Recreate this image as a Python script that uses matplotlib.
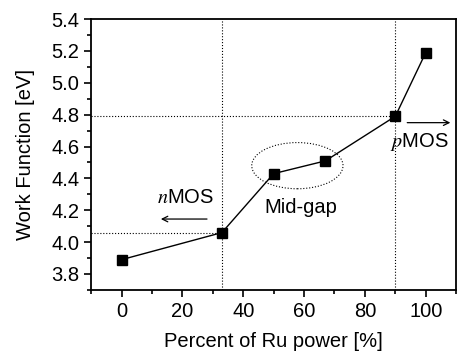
import matplotlib
matplotlib.use('Agg')
import matplotlib.pyplot as plt
from matplotlib.patches import Ellipse
from matplotlib.ticker import MultipleLocator

plt.rcParams['font.family'] = ['Liberation Sans', 'DejaVu Sans']
plt.rcParams['mathtext.fontset'] = 'stix'

# data
ru_power = [0, 33, 50, 67, 90, 100]
work_func = [3.89, 4.06, 4.43, 4.51, 4.79, 5.19]
x_ticks = [0, 20, 40, 60, 80, 100]
y_ticks = [3.8, 4.0, 4.2, 4.4, 4.6, 4.8, 5.0, 5.2, 5.4]

fs = 14.5

fig = plt.figure(figsize=(4.58, 3.54), dpi=100)
ax = fig.add_axes([0.199, 0.181, 0.797, 0.765])

ax.plot(ru_power, work_func, color='black', lw=1.0, marker='s', ms=6.5, zorder=3)

# guide lines
ax.axvline(ru_power[1], color='black', ls=':', lw=0.8)
ax.axvline(ru_power[4], color='black', ls=':', lw=0.8)
ax.plot([-10, ru_power[1]], [work_func[1]] * 2, color='black', ls=':', lw=0.8)
ax.plot([-10, ru_power[4]], [work_func[4]] * 2, color='black', ls=':', lw=0.8)

ax.add_patch(Ellipse((57.8, 4.48), 30, 0.29, fill=False, ls=':', lw=0.8, color='black'))

ax.text(59, 4.22, 'Mid-gap', fontsize=fs, ha='center', va='center')
ax.text(21, 4.28, r'$n$MOS', fontsize=fs, ha='center', va='center')
ax.text(98, 4.63, r'$p$MOS', fontsize=fs, ha='center', va='center')
ax.annotate('', xy=(12, 4.145), xytext=(29, 4.145),
            arrowprops=dict(arrowstyle='->', lw=0.9, color='black'))
ax.annotate('', xy=(109, 4.75), xytext=(93, 4.75),
            arrowprops=dict(arrowstyle='->', lw=0.9, color='black'))

ax.set_xlim(-10, 110)
ax.set_ylim(3.7, 5.4)
ax.set_xticks(x_ticks)
ax.set_yticks(y_ticks)
ax.xaxis.set_minor_locator(MultipleLocator(10))
ax.yaxis.set_minor_locator(MultipleLocator(0.1))
ax.set_yticklabels(['%.1f' % v for v in y_ticks])
ax.tick_params(which='both', direction='out', top=False, right=False, labelsize=fs, width=1.2)
ax.tick_params(which='major', length=5)
ax.tick_params(which='minor', length=3)
for s in ax.spines.values():
    s.set_linewidth(1.3)

ax.set_xlabel('Percent of Ru power [%]', fontsize=fs, labelpad=8)
ax.set_ylabel('Work Function [eV]', fontsize=fs, labelpad=12)

fig.savefig('out.png', dpi=100)
